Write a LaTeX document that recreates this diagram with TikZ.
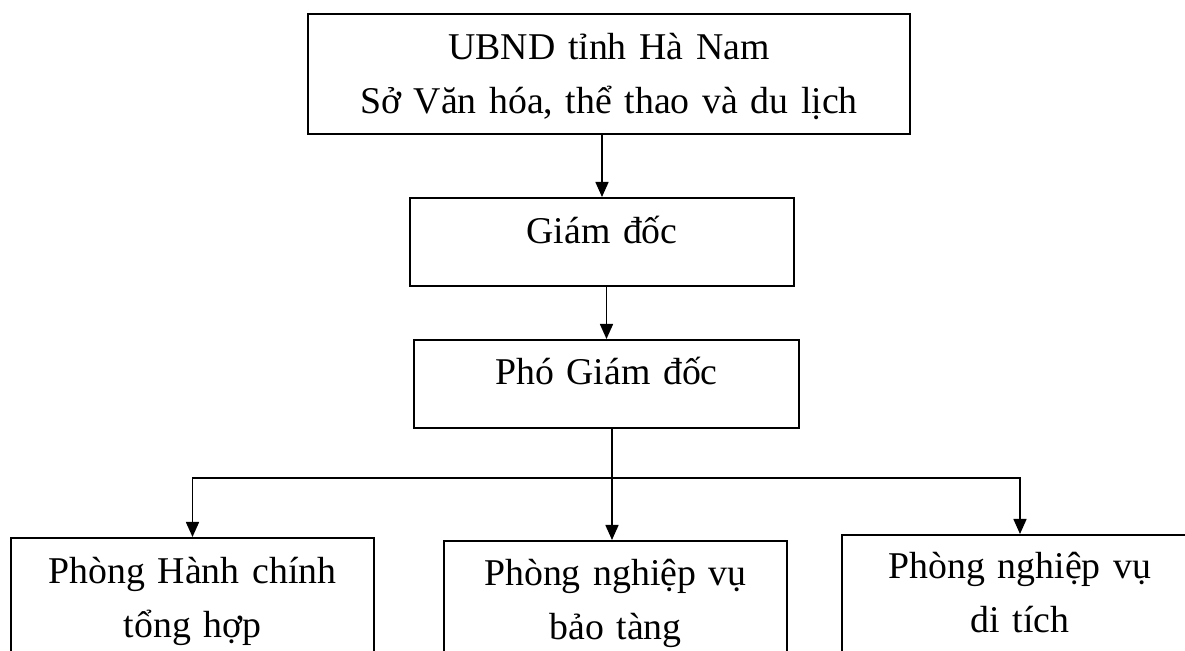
\documentclass[tikz,border=0pt]{standalone}
\usepackage{fontspec}
\setmainfont{Liberation Serif}
\usetikzlibrary{positioning,arrows.meta}

\begin{document}
\begin{tikzpicture}[x=0.5pt, y=-0.5pt, >={Triangle[length=7.5pt, width=6.5pt]},
  font=\fontsize{18.9pt}{27pt}\selectfont,
  unit/.style={draw, line width=1pt, inner sep=0pt, align=center, anchor=north west},
  link/.style={->, line width=0.8pt}]
  \useasboundingbox (0,0) rectangle (1185,651);
  \clip (0,0) rectangle (1185,651);
  % top of the chart
  \node[unit, text width=301pt, text height=23pt, text depth=37pt] (ubnd) at (307,13)
    {UBND tỉnh Hà Nam\\Sở Văn hóa, thể thao và du lịch};
  \node[unit, text width=192pt, text height=23pt, text depth=21pt] (gd) at (409,197) {Giám đốc};
  \node[unit, text width=192.5pt, text height=22.5pt, text depth=21.5pt] (pgd) at (413,339) {Phó Giám đốc};
  % the three offices
  \node[unit, text width=181.5pt, text height=23pt, text depth=57pt] (hc) at (10,537)
    {Phòng Hành chính\\tổng hợp};
  \node[unit, text width=171.5pt, text height=22.5pt, text depth=57pt] (bt) at (443,540)
    {Phòng nghiệp vụ\\bảo tàng};
  \node[unit, text width=178pt, text height=22pt, text depth=57pt] (dt) at (841,534)
    {Phòng nghiệp vụ\\di tích};
  \coordinate (hub) at (612,478);
  \draw[link] (gd.north |- ubnd.south) -- (gd.north);
  \draw[link] (pgd.north |- gd.south) -- (pgd.north);
  \draw[line width=0.8pt] (pgd.south -| hub) -- (hub);
  \draw[link] (hub) -- (bt.north -| hub);
  \draw[link] (hub) -| (hc.north);
  \draw[link] (hub) -| (dt.north);
\end{tikzpicture}
\end{document}
